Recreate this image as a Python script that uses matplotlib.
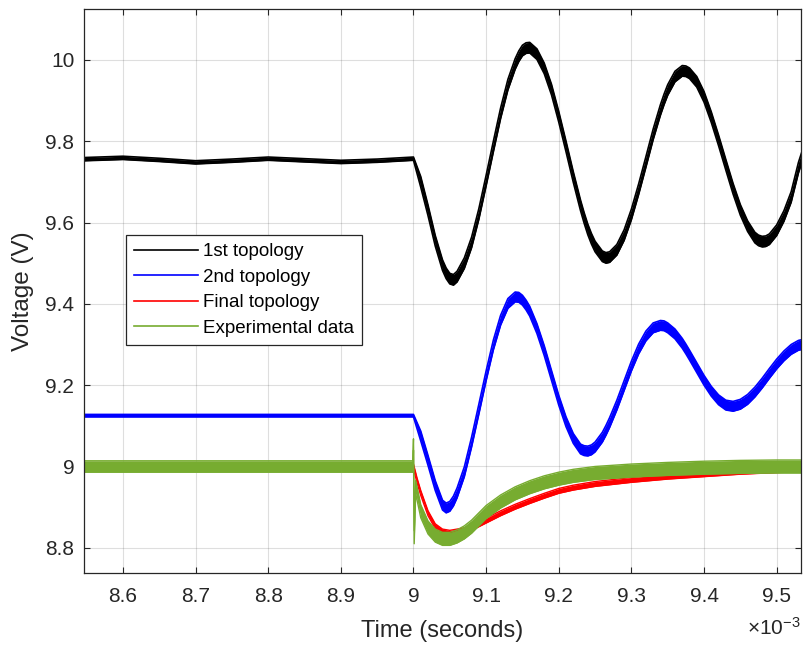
import matplotlib
matplotlib.use("Agg")
import matplotlib.pyplot as plt
import numpy as np
from matplotlib.ticker import FuncFormatter

plt.rcParams["font.family"] = ["Liberation Sans", "DejaVu Sans"]
plt.rcParams["mathtext.fontset"] = "custom"
plt.rcParams["mathtext.rm"] = "Liberation Sans"

# time axis in ms (axis shows x10^-3 s)
t_pre = [8.54, 8.55, 8.60, 8.65, 8.70, 8.75, 8.80, 8.85, 8.90, 8.95]
t_osc = [9.00, 9.01, 9.02, 9.03, 9.04, 9.045, 9.05, 9.055, 9.06, 9.07, 9.08, 9.09,
         9.10, 9.11, 9.12, 9.13, 9.14, 9.145, 9.15, 9.155, 9.16, 9.17, 9.18, 9.19,
         9.20, 9.21, 9.22, 9.23, 9.235, 9.24, 9.245, 9.25, 9.26, 9.265, 9.27, 9.28, 9.29,
         9.30, 9.31, 9.32, 9.33, 9.34, 9.345, 9.35, 9.36, 9.37, 9.375, 9.38, 9.39,
         9.40, 9.41, 9.42, 9.43, 9.44, 9.45, 9.46, 9.47, 9.475, 9.48, 9.485, 9.49,
         9.50, 9.51, 9.52, 9.53, 9.54]

# 1st topology
v1_pre = [9.755, 9.756, 9.759, 9.754, 9.748, 9.752, 9.757, 9.753, 9.749, 9.752]
v1_osc = [9.757, 9.700, 9.630, 9.555, 9.495, 9.475, 9.462, 9.459, 9.467, 9.500, 9.551, 9.621,
          9.703, 9.787, 9.869, 9.939, 9.990, 10.009, 10.023, 10.029, 10.030, 10.014, 9.979, 9.927,
          9.860, 9.787, 9.712, 9.642, 9.611, 9.583, 9.560, 9.541, 9.517, 9.513, 9.515, 9.533, 9.569,
          9.620, 9.682, 9.749, 9.817, 9.877, 9.903, 9.926, 9.959, 9.973, 9.972, 9.967, 9.946,
          9.909, 9.859, 9.802, 9.742, 9.683, 9.631, 9.591, 9.563, 9.556, 9.553, 9.554, 9.559,
          9.581, 9.616, 9.663, 9.735, 9.790]

# 2nd topology
v2_pre = [9.125] * len(t_pre)
v2_osc = [9.125, 9.075, 9.015, 8.953, 8.905, 8.898, 8.902, 8.915, 8.935, 8.987, 9.060, 9.141,
          9.223, 9.299, 9.360, 9.401, 9.417, 9.416, 9.409, 9.397, 9.382, 9.339, 9.285, 9.224,
          9.163, 9.110, 9.069, 9.043, 9.039, 9.038, 9.041, 9.048, 9.072, 9.089, 9.108, 9.151, 9.199,
          9.247, 9.289, 9.321, 9.341, 9.347, 9.346, 9.341, 9.326, 9.303, 9.289, 9.274, 9.243,
          9.212, 9.185, 9.164, 9.151, 9.148, 9.153, 9.165, 9.183, 9.194, 9.205, 9.217, 9.229,
          9.252, 9.272, 9.288, 9.298, 9.302]

# Final topology
t_fin = [8.54, 9.00, 9.005, 9.01, 9.02, 9.03, 9.04, 9.05, 9.06, 9.07, 9.08,
         9.09, 9.10, 9.12, 9.14, 9.16, 9.18, 9.20, 9.22, 9.25, 9.30, 9.35,
         9.40, 9.45, 9.50, 9.54]
v_fin = [9.000, 9.000, 8.965, 8.935, 8.885, 8.853, 8.840, 8.837, 8.840, 8.843, 8.849,
         8.858, 8.867, 8.885, 8.901, 8.915, 8.928, 8.940, 8.948, 8.957, 8.967, 8.975,
         8.981, 8.987, 8.991, 8.994]

# Experimental data (spike at the load step)
t_exp = [8.54, 8.999, 9.000, 9.001, 9.003, 9.01, 9.02, 9.03, 9.04, 9.05, 9.06,
         9.07, 9.08, 9.09, 9.10, 9.12, 9.14, 9.16, 9.18, 9.20, 9.22, 9.25,
         9.30, 9.35, 9.40, 9.45, 9.50, 9.54]
v_exp = [9.000, 9.000, 9.054, 8.826, 8.950, 8.890, 8.850, 8.830, 8.822, 8.822, 8.828,
         8.838, 8.852, 8.870, 8.888, 8.914, 8.934, 8.949, 8.961, 8.970, 8.977, 8.984,
         8.990, 8.994, 8.997, 8.999, 9.000, 9.000]

# switching ripple half-width (V) before / after the step
ripple = {"1st": (0.004, 0.013), "2nd": (0.003, 0.012), "final": (0.006, 0.006),
          "exp": (0.014, 0.016)}

x_ticks = [8.6, 8.7, 8.8, 8.9, 9.0, 9.1, 9.2, 9.3, 9.4, 9.5]
y_ticks = [8.8, 9.0, 9.2, 9.4, 9.6, 9.8, 10.0]

green = "#77ac30"


def draw_band(ax, t, v, rip, color, lw, z):
    t = np.asarray(t)
    v = np.asarray(v)
    r = np.where(t <= 9.0, rip[0], rip[1])
    ax.fill_between(t, v - r, v + r, color=color, lw=0, zorder=z)
    for edge in (v - r, v + r):
        ax.plot(t, edge, color=color, lw=lw, zorder=z, solid_joinstyle="round")


fig = plt.figure(figsize=(8.06, 6.45), dpi=100)
ax = fig.add_axes([0.1042, 0.1116, 0.8896, 0.8744])

draw_band(ax, t_pre + t_osc, v1_pre + v1_osc, ripple["1st"], "black", 1.2, 2)
draw_band(ax, t_pre + t_osc, v2_pre + v2_osc, ripple["2nd"], "#0000ff", 1.2, 3)
draw_band(ax, t_fin, v_fin, ripple["final"], "#ff0000", 1.0, 4)
draw_band(ax, t_exp, v_exp, ripple["exp"], green, 1.0, 5)

ax.set_xlim(8.5464, 9.5335)
ax.set_ylim(8.738, 10.125)
ax.set_xticks(x_ticks)
ax.set_yticks(y_ticks)
fmt = FuncFormatter(lambda v, p: "%g" % round(v, 3))
ax.xaxis.set_major_formatter(fmt)
ax.yaxis.set_major_formatter(fmt)

ax.grid(True, color="#262626", alpha=0.15, lw=0.8)
ax.set_axisbelow(True)
for sp in ax.spines.values():
    sp.set_color("#262626")
    sp.set_linewidth(0.9)
    sp.set_zorder(6)
ax.tick_params(direction="in", top=True, right=True, length=4, width=0.8,
               colors="#262626", labelsize=15)
ax.tick_params(axis="x", pad=10)
ax.tick_params(axis="y", pad=7)

ax.set_xlabel("Time (seconds)", fontsize=17, color="#262626")
ax.xaxis.set_label_coords(0.5, -0.103)
ax.xaxis.label.set_va("center")
ax.set_ylabel("Voltage (V)", fontsize=17.5, color="#262626")
ax.yaxis.set_label_coords(-0.085, 0.5)
ax.yaxis.label.set_va("center")

ax.text(1.0, -0.097, r"$\mathregular{\times10^{-3}}$", transform=ax.transAxes,
        ha="right", va="center", fontsize=15, color="#262626")

handles = [
    plt.Line2D([], [], color="black", lw=1.2),
    plt.Line2D([], [], color="#0000ff", lw=1.2),
    plt.Line2D([], [], color="#ff0000", lw=1.2),
    plt.Line2D([], [], color=green, lw=1.2),
]
labels = ["1st topology", "2nd topology", "Final topology", "Experimental data"]
leg = ax.legend(handles, labels, loc="upper left", bbox_to_anchor=(0.0586, 0.599),
                fontsize=13.5, frameon=True, fancybox=False, framealpha=1,
                edgecolor="#262626", handlelength=3.4, handletextpad=0.3,
                labelspacing=0.45, borderpad=0.42, borderaxespad=0)
leg.get_frame().set_linewidth(0.9)
leg.set_zorder(10)

plt.savefig("out.png", dpi=100)
